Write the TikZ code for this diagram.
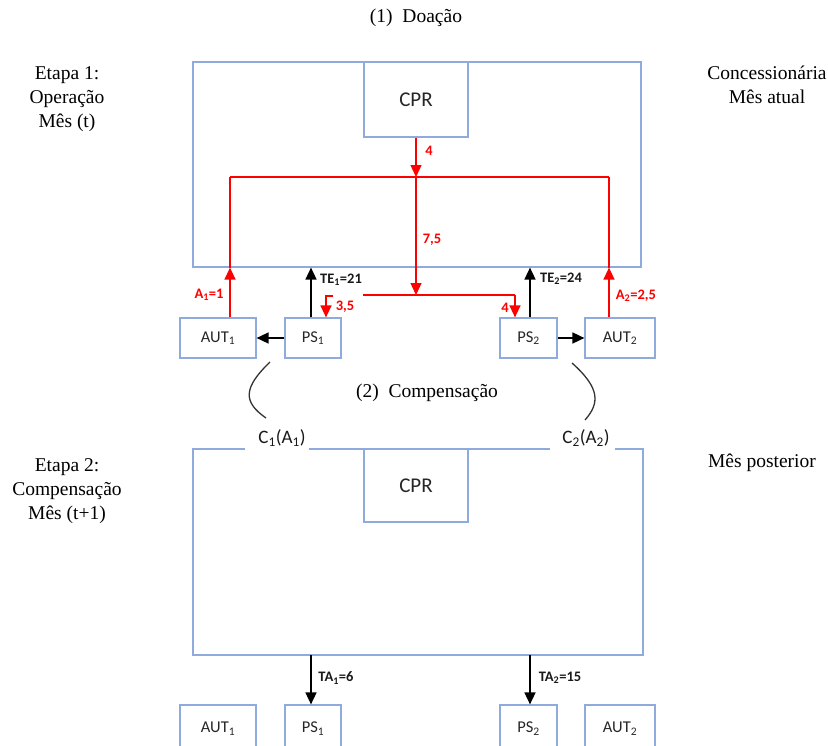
\documentclass[tikz,border=0pt]{standalone}
\usepackage{fontspec}
\setmainfont{Liberation Serif}
\newfontfamily\calibri{Carlito}
\usetikzlibrary{arrows.meta}
\definecolor{boxblue}{RGB}{143,170,220}
\definecolor{myred}{RGB}{255,0,0}
\begin{document}
\begin{tikzpicture}[x=1pt,y=-1pt,
  bx/.style={draw=boxblue, line width=1.2pt, inner sep=0pt, font=\calibri\fontsize{16.5}{18}\selectfont, text=black!85},
  bigtxt/.style={font=\calibri\fontsize{21}{24}\selectfont, text=black!85},
  serif/.style={font=\fontsize{19.5}{24}\selectfont, align=center, text=black},
  redln/.style={draw=myred, line width=1.3pt},
  blkln/.style={draw=black, line width=1.6pt},
  tip/.style={-{Triangle[length=12pt,width=11pt]}},
  redlab/.style={font=\calibri\bfseries\fontsize{14.5}{16}\selectfont, text=myred},
  blklab/.style={font=\calibri\bfseries\fontsize{14.5}{16}\selectfont, text=black!90},
  clab/.style={font=\calibri\fontsize{19}{20}\selectfont, text=black!90}]
\useasboundingbox (0,0) rectangle (828,745);
\clip (0,0) rectangle (828,745);

% titles and side texts
\node[serif] (t1) at (416,18) {(1)\ \ Doação};
\node[serif] (t2) at (427,393) {(2)\ \ Compensação};
\node[serif] (e1) at (67,99) {Etapa 1:\\Operação\\Mês (t)};
\node[serif] (e2) at (67,491) {Etapa 2:\\Compensação\\Mês (t+1)};
\node[serif] (c1) at (767,85) {Concessionária\\Mês atual};
\node[serif] (c2) at (762,463) {Mês posterior};

% stage 1 boxes
\node[bx, minimum width=448, minimum height=205] (top) at (417,164.5) {};
\node[bx, bigtxt, minimum width=104, minimum height=75] (cpr1) at (416,99.5) {CPR};
\node[bx, minimum width=76, minimum height=40] (aut1) at (218,338) {AUT\textsubscript{1}};
\node[bx, minimum width=56, minimum height=40] (ps1) at (313,338) {PS\textsubscript{1}};
\node[bx, minimum width=57, minimum height=40] (ps2) at (528.5,338) {PS\textsubscript{2}};
\node[bx, minimum width=70, minimum height=40] (aut2) at (620,338) {AUT\textsubscript{2}};

% red flows
\coordinate (j1) at (416,177);
\coordinate (la) at (230,177);
\coordinate (ra) at (609,177);
\coordinate (j2) at (416,295);
\coordinate (m1) at (363,295);
\coordinate (m2) at (515,295);
\coordinate (s1) at (333,296);
\coordinate (s2) at (326,296);
\draw[redln, tip] (cpr1.south) -- (j1);
\draw[redln] (la) -- (ra);
\draw[redln, tip] (aut1.north -| la) -- (top.south -| la);
\draw[redln] (top.south -| la) -- (la);
\draw[redln, tip] (aut2.north -| ra) -- (top.south -| ra);
\draw[redln] (top.south -| ra) -- (ra);
\draw[redln, tip] (j1) -- (j2);
\draw[redln] (m1) -- (m2);
\draw[redln, tip] (m2) -- (ps2.north -| m2);
\draw[redln, tip] (s1) -- (s2) -- (ps1.north -| s2);

% black flows
\draw[blkln, tip] (ps1.north -| 311,0) -- (top.south -| 311,0);
\draw[blkln, tip] (ps2.north -| 530,0) -- (top.south -| 530,0);
\draw[blkln, tip] (ps1.west) -- (aut1.east);
\draw[blkln, tip] (ps2.east) -- (aut2.west);

% labels stage 1
\node[redlab] (l4a) at (429,151) {4};
\node[redlab] (l75) at (432,240) {7,5};
\node[redlab] (la1) at (209,295) {A\textsubscript{1}=1};
\node[redlab] (l35) at (345,307) {3,5};
\node[redlab] (l4b) at (505,308) {4};
\node[redlab] (la2) at (636,296) {A\textsubscript{2}=2,5};
\node[blklab] (lte1) at (341,280) {TE\textsubscript{1}=21};
\node[blklab] (lte2) at (561,279) {TE\textsubscript{2}=24};

% stage 2
\node[clab] (cA1) at (282,438) {C\textsubscript{1}(A\textsubscript{1})};
\node[clab] (cA2) at (586,438) {C\textsubscript{2}(A\textsubscript{2})};
\coordinate (b1) at (245,449);
\coordinate (b2) at (193,449);
\coordinate (b3) at (193,655);
\coordinate (b4) at (643,655);
\coordinate (b5) at (643,449);
\coordinate (b6) at (615,449);
\coordinate (b7) at (309,449);
\coordinate (b8) at (550,449);
\draw[draw=boxblue, line width=1.2pt] (b1) -- (b2) -- (b3) -- (b4) -- (b5) -- (b6);
\draw[draw=boxblue, line width=1.2pt] (b7) -- (b8);
\node[bx, bigtxt, minimum width=104, minimum height=73] (cpr2) at (416,485.5) {CPR};

\node[bx, minimum width=76, minimum height=50] (baut1) at (218,730) {\raisebox{5pt}{AUT\textsubscript{1}}};
\node[bx, minimum width=56, minimum height=50] (bps1) at (313,730) {\raisebox{5pt}{PS\textsubscript{1}}};
\node[bx, minimum width=57, minimum height=50] (bps2) at (528.5,730) {\raisebox{5pt}{PS\textsubscript{2}}};
\node[bx, minimum width=70, minimum height=50] (baut2) at (620,730) {\raisebox{5pt}{AUT\textsubscript{2}}};

\draw[blkln, tip] (b3 -| 311,0) -- (bps1.north -| 311,0);
\draw[blkln, tip] (b3 -| 530,0) -- (bps2.north -| 530,0);
\node[blklab] (lta1) at (336,678) {TA\textsubscript{1}=6};
\node[blklab] (lta2) at (560,678) {TA\textsubscript{2}=15};

% braces
\coordinate (k1) at (270,362);
\coordinate (k2) at (266,418);
\coordinate (k3) at (572,363);
\coordinate (k4) at (585,420);
\draw[line width=1.3pt, black!80] (k1) .. controls (243,388) and (243,402) .. (k2);
\draw[line width=1.3pt, black!80] (k3) .. controls (600,388) and (600,403) .. (k4);
\end{tikzpicture}
\end{document}
